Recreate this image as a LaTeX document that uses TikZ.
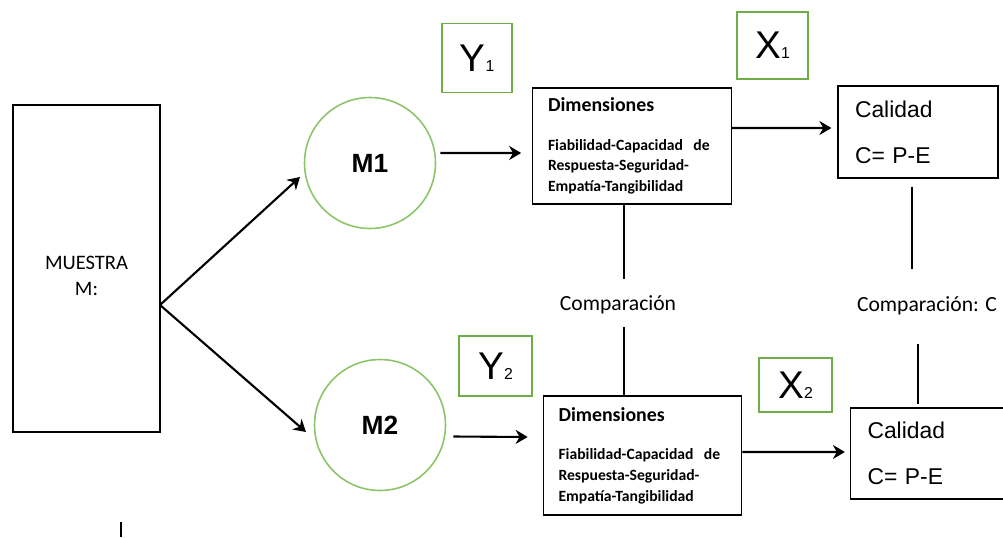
\documentclass[tikz,border=0pt]{standalone}
\usepackage{fontspec}
\setmainfont{Liberation Sans}
\newfontfamily\carlito{Carlito}
\usepackage{xcolor}
\usetikzlibrary{positioning, arrows.meta}
\definecolor{frameGreen}{HTML}{70AD47}
\definecolor{ringGreen}{HTML}{8CC46A}
\newcommand{\tagsub}[1]{{\fontsize{9}{9}\selectfont #1}}

\begin{document}
\begin{tikzpicture}[
    x=0.02cm, y=-0.02cm,
    box/.style={rectangle, draw, line width=0.7pt, inner sep=0pt},
    dimbox/.style={box, minimum width=3.97cm, align=left, text width=3.36cm, font=\carlito\bfseries\fontsize{8.9}{11.7}\selectfont},
    calbox/.style={box, minimum width=3.2cm, minimum height=1.84cm, align=left, text width=2.52cm, font=\fontsize{13}{26}\selectfont},
    ring/.style={circle, draw=ringGreen, line width=0.9pt, minimum size=2.62cm, font=\bfseries\fontsize{15}{17}\selectfont},
    tag/.style={rectangle, draw=frameGreen, line width=1pt, inner sep=0pt, font=\fontsize{22}{24}\selectfont},
    arrow/.style={-{Stealth[length=2.4mm, width=2.8mm]}, line width=1.2pt},
    link/.style={line width=1.6pt},
    note/.style={font=\carlito\fontsize{12.3}{14}\selectfont}
]
\useasboundingbox (0,0) rectangle (1003,537);

% muestra y grupos
\node[box, minimum width=2.94cm, minimum height=6.54cm, align=center, font=\carlito\fontsize{11.7}{15}\selectfont] (muestra) at (86.5,268.5) {\rule{0pt}{0.57cm}MUESTRA\\M:};
\node[ring] (m1) at (370,163) {M1};
\node[ring] (m2) at (380,425) {M2};

\coordinate (split) at (160,305);
\coordinate (m1in) at (300,177);
\coordinate (m2in) at (306,432);

% dimensiones
\node[dimbox, minimum height=2.32cm] (dim1) at (632,146) {{\fontsize{11.3}{13}\selectfont Dimensiones}\\[10.3pt]Fiabilidad-Capacidad\ \ de\\Respuesta-Seguridad-\\Empatía-Tangibilidad};
\node[dimbox, minimum height=2.38cm] (dim2) at (642.5,455.5) {{\fontsize{11.3}{13}\selectfont Dimensiones}\\[10.3pt]Fiabilidad-Capacidad\ \ de\\Respuesta-Seguridad-\\Empatía-Tangibilidad};

% calidad
\node[calbox] (cal1) at (918,132) {Calidad\\C= P-E};
\node[calbox, minimum height=1.82cm] (cal2) at (930.5,453.5) {Calidad\\C= P-E};

% variables
\node[tag, minimum width=1.4cm, minimum height=1.38cm] (y1) at (477,58) {Y\tagsub{1}};
\node[tag, minimum width=1.42cm, minimum height=1.34cm] (x1) at (772.5,45.5) {X\tagsub{1}};
\node[tag, minimum width=1.46cm, minimum height=1.2cm] (y2) at (495.5,366) {Y\tagsub{2}};
\node[tag, minimum width=1.46cm, minimum height=1.08cm] (x2) at (795.5,385) {X\tagsub{2}};

\node[note] (comp1) at (618,305) {Comparación};
\node[note] (comp2) at (927,306) {Comparación: C};

\draw[arrow] (split) -- (m1in);
\draw[arrow] (split) -- (m2in);
\draw[arrow] ([xshift=0.1cm, yshift=-0.03cm]m1.10) -- ([xshift=-0.22cm, yshift=-0.14cm]dim1.west);
\draw[arrow] ([xshift=0.16cm]m2.-10) -- ([xshift=-0.3cm, yshift=0.37cm]dim2.west);
\draw[arrow] ([yshift=0.36cm]dim1.east) -- ([xshift=-0.12cm, yshift=0.08cm]cal1.west);
\draw[arrow] ([yshift=0.07cm]dim2.east) -- ([xshift=-0.1cm, yshift=0.03cm]cal2.west);

\draw[link] ([xshift=-0.16cm]dim1.south) -- ++(0,74);
\draw[link] ([xshift=-0.37cm]dim2.north) -- ++(0,-68);
\draw[link] ([xshift=-0.12cm, yshift=-0.16cm]cal1.south) -- ++(0,82);
\draw[link] ([xshift=-0.25cm, yshift=0.06cm]cal2.north) -- ++(0,-60);

% marca suelta
\draw[line width=0.9pt] (121,522) -- (121,537);

\end{tikzpicture}
\end{document}
